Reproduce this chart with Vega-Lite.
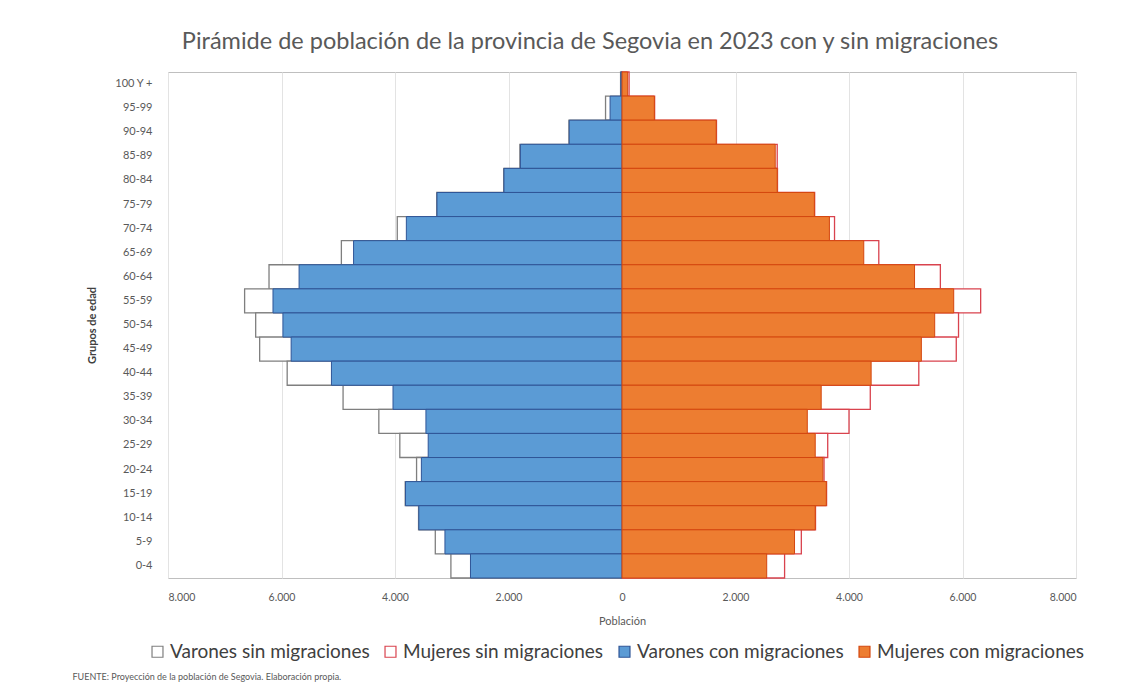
{
  "$schema": "https://vega.github.io/schema/vega-lite/v6.json",
  "padding": {"left": 72, "top": 29, "right": 10, "bottom": 6},
  "background": "#ffffff",
  "title": {
    "text": "FUENTE: Proyección de la población de Segovia. Elaboración propia.",
    "orient": "bottom",
    "anchor": "start",
    "fontSize": 9,
    "fontWeight": "normal",
    "color": "#595959",
    "offset": 11,
    "dx": -14
  },
  "vconcat": [
    {
      "width": 908,
      "height": 506,
      "title": {
        "text": "Pirámide de población de la provincia de Segovia en 2023 con y sin migraciones",
        "fontSize": 23.5,
        "fontWeight": "normal",
        "color": "#595959",
        "offset": 18,
        "dx": -32
      },
      "data": {
        "values": [
          {"edad": "100 Y +", "sexo": "Varones", "tipo": "sin", "poblacion": 25},
          {"edad": "95-99", "sexo": "Varones", "tipo": "sin", "poblacion": 290},
          {"edad": "90-94", "sexo": "Varones", "tipo": "sin", "poblacion": 935},
          {"edad": "85-89", "sexo": "Varones", "tipo": "sin", "poblacion": 1800},
          {"edad": "80-84", "sexo": "Varones", "tipo": "sin", "poblacion": 2085},
          {"edad": "75-79", "sexo": "Varones", "tipo": "sin", "poblacion": 3265},
          {"edad": "70-74", "sexo": "Varones", "tipo": "sin", "poblacion": 3960},
          {"edad": "65-69", "sexo": "Varones", "tipo": "sin", "poblacion": 4945},
          {"edad": "60-64", "sexo": "Varones", "tipo": "sin", "poblacion": 6220},
          {"edad": "55-59", "sexo": "Varones", "tipo": "sin", "poblacion": 6650},
          {"edad": "50-54", "sexo": "Varones", "tipo": "sin", "poblacion": 6455},
          {"edad": "45-49", "sexo": "Varones", "tipo": "sin", "poblacion": 6385},
          {"edad": "40-44", "sexo": "Varones", "tipo": "sin", "poblacion": 5900},
          {"edad": "35-39", "sexo": "Varones", "tipo": "sin", "poblacion": 4915},
          {"edad": "30-34", "sexo": "Varones", "tipo": "sin", "poblacion": 4285},
          {"edad": "25-29", "sexo": "Varones", "tipo": "sin", "poblacion": 3915},
          {"edad": "20-24", "sexo": "Varones", "tipo": "sin", "poblacion": 3620},
          {"edad": "15-19", "sexo": "Varones", "tipo": "sin", "poblacion": 3820},
          {"edad": "10-14", "sexo": "Varones", "tipo": "sin", "poblacion": 3585},
          {"edad": "5-9", "sexo": "Varones", "tipo": "sin", "poblacion": 3290},
          {"edad": "0-4", "sexo": "Varones", "tipo": "sin", "poblacion": 3015},
          {"edad": "100 Y +", "sexo": "Mujeres", "tipo": "sin", "poblacion": 125},
          {"edad": "95-99", "sexo": "Mujeres", "tipo": "sin", "poblacion": 575},
          {"edad": "90-94", "sexo": "Mujeres", "tipo": "sin", "poblacion": 1665},
          {"edad": "85-89", "sexo": "Mujeres", "tipo": "sin", "poblacion": 2735},
          {"edad": "80-84", "sexo": "Mujeres", "tipo": "sin", "poblacion": 2740},
          {"edad": "75-79", "sexo": "Mujeres", "tipo": "sin", "poblacion": 3395},
          {"edad": "70-74", "sexo": "Mujeres", "tipo": "sin", "poblacion": 3745},
          {"edad": "65-69", "sexo": "Mujeres", "tipo": "sin", "poblacion": 4525},
          {"edad": "60-64", "sexo": "Mujeres", "tipo": "sin", "poblacion": 5610},
          {"edad": "55-59", "sexo": "Mujeres", "tipo": "sin", "poblacion": 6320},
          {"edad": "50-54", "sexo": "Mujeres", "tipo": "sin", "poblacion": 5930},
          {"edad": "45-49", "sexo": "Mujeres", "tipo": "sin", "poblacion": 5890},
          {"edad": "40-44", "sexo": "Mujeres", "tipo": "sin", "poblacion": 5230},
          {"edad": "35-39", "sexo": "Mujeres", "tipo": "sin", "poblacion": 4375},
          {"edad": "30-34", "sexo": "Mujeres", "tipo": "sin", "poblacion": 4000},
          {"edad": "25-29", "sexo": "Mujeres", "tipo": "sin", "poblacion": 3625},
          {"edad": "20-24", "sexo": "Mujeres", "tipo": "sin", "poblacion": 3560},
          {"edad": "15-19", "sexo": "Mujeres", "tipo": "sin", "poblacion": 3605},
          {"edad": "10-14", "sexo": "Mujeres", "tipo": "sin", "poblacion": 3410},
          {"edad": "5-9", "sexo": "Mujeres", "tipo": "sin", "poblacion": 3160},
          {"edad": "0-4", "sexo": "Mujeres", "tipo": "sin", "poblacion": 2865},
          {"edad": "100 Y +", "sexo": "Varones", "tipo": "con", "poblacion": 20},
          {"edad": "95-99", "sexo": "Varones", "tipo": "con", "poblacion": 210},
          {"edad": "90-94", "sexo": "Varones", "tipo": "con", "poblacion": 930},
          {"edad": "85-89", "sexo": "Varones", "tipo": "con", "poblacion": 1790},
          {"edad": "80-84", "sexo": "Varones", "tipo": "con", "poblacion": 2080},
          {"edad": "75-79", "sexo": "Varones", "tipo": "con", "poblacion": 3260},
          {"edad": "70-74", "sexo": "Varones", "tipo": "con", "poblacion": 3800},
          {"edad": "65-69", "sexo": "Varones", "tipo": "con", "poblacion": 4730},
          {"edad": "60-64", "sexo": "Varones", "tipo": "con", "poblacion": 5690},
          {"edad": "55-59", "sexo": "Varones", "tipo": "con", "poblacion": 6150},
          {"edad": "50-54", "sexo": "Varones", "tipo": "con", "poblacion": 5975},
          {"edad": "45-49", "sexo": "Varones", "tipo": "con", "poblacion": 5830},
          {"edad": "40-44", "sexo": "Varones", "tipo": "con", "poblacion": 5120},
          {"edad": "35-39", "sexo": "Varones", "tipo": "con", "poblacion": 4035},
          {"edad": "30-34", "sexo": "Varones", "tipo": "con", "poblacion": 3455},
          {"edad": "25-29", "sexo": "Varones", "tipo": "con", "poblacion": 3415},
          {"edad": "20-24", "sexo": "Varones", "tipo": "con", "poblacion": 3535},
          {"edad": "15-19", "sexo": "Varones", "tipo": "con", "poblacion": 3815},
          {"edad": "10-14", "sexo": "Varones", "tipo": "con", "poblacion": 3580},
          {"edad": "5-9", "sexo": "Varones", "tipo": "con", "poblacion": 3120},
          {"edad": "0-4", "sexo": "Varones", "tipo": "con", "poblacion": 2670},
          {"edad": "100 Y +", "sexo": "Mujeres", "tipo": "con", "poblacion": 100},
          {"edad": "95-99", "sexo": "Mujeres", "tipo": "con", "poblacion": 570},
          {"edad": "90-94", "sexo": "Mujeres", "tipo": "con", "poblacion": 1660},
          {"edad": "85-89", "sexo": "Mujeres", "tipo": "con", "poblacion": 2700},
          {"edad": "80-84", "sexo": "Mujeres", "tipo": "con", "poblacion": 2735},
          {"edad": "75-79", "sexo": "Mujeres", "tipo": "con", "poblacion": 3390},
          {"edad": "70-74", "sexo": "Mujeres", "tipo": "con", "poblacion": 3655},
          {"edad": "65-69", "sexo": "Mujeres", "tipo": "con", "poblacion": 4260},
          {"edad": "60-64", "sexo": "Mujeres", "tipo": "con", "poblacion": 5155},
          {"edad": "55-59", "sexo": "Mujeres", "tipo": "con", "poblacion": 5845},
          {"edad": "50-54", "sexo": "Mujeres", "tipo": "con", "poblacion": 5510},
          {"edad": "45-49", "sexo": "Mujeres", "tipo": "con", "poblacion": 5275},
          {"edad": "40-44", "sexo": "Mujeres", "tipo": "con", "poblacion": 4390},
          {"edad": "35-39", "sexo": "Mujeres", "tipo": "con", "poblacion": 3510},
          {"edad": "30-34", "sexo": "Mujeres", "tipo": "con", "poblacion": 3265},
          {"edad": "25-29", "sexo": "Mujeres", "tipo": "con", "poblacion": 3405},
          {"edad": "20-24", "sexo": "Mujeres", "tipo": "con", "poblacion": 3540},
          {"edad": "15-19", "sexo": "Mujeres", "tipo": "con", "poblacion": 3600},
          {"edad": "10-14", "sexo": "Mujeres", "tipo": "con", "poblacion": 3405},
          {"edad": "5-9", "sexo": "Mujeres", "tipo": "con", "poblacion": 3040},
          {"edad": "0-4", "sexo": "Mujeres", "tipo": "con", "poblacion": 2550}
        ]
      },
      "transform": [
        {"calculate": "datum.sexo == 'Varones' ? -datum.poblacion : datum.poblacion", "as": "valor"},
        {"calculate": "datum.sexo + ' ' + datum.tipo + ' migraciones'", "as": "serie"}
      ],
      "encoding": {
        "y": {
          "field": "edad",
          "type": "nominal",
          "sort": ["100 Y +", "95-99", "90-94", "85-89", "80-84", "75-79", "70-74", "65-69", "60-64", "55-59", "50-54", "45-49", "40-44", "35-39", "30-34", "25-29", "20-24", "15-19", "10-14", "5-9", "0-4"],
          "scale": {"paddingInner": 0, "paddingOuter": 0},
          "title": "Grupos de edad",
          "axis": {
            "ticks": false,
            "domain": false,
            "grid": false,
            "labelFontSize": 11,
            "labelColor": "#595959",
            "labelPadding": 16,
            "titleFontSize": 11,
            "titleFontWeight": "bold",
            "titleColor": "#404040",
            "titlePadding": 16
          }
        },
        "x": {
          "field": "valor",
          "type": "quantitative",
          "stack": null,
          "scale": {"domain": [-8000, 8000], "nice": false},
          "title": "Población",
          "axis": {
            "values": [-8000, -6000, -4000, -2000, 0, 2000, 4000, 6000, 8000],
            "labelExpr": "replace(format(abs(datum.value), ','), ',', '.')",
            "ticks": false,
            "domain": false,
            "grid": true,
            "gridColor": "#E3E3E3",
            "labelFontSize": 10.5,
            "labelColor": "#595959",
            "labelPadding": 14,
            "titleFontSize": 11,
            "titleFontWeight": "normal",
            "titleColor": "#595959",
            "titlePadding": 13
          }
        },
        "fill": {
          "field": "serie",
          "type": "nominal",
          "scale": {
            "domain": ["Varones sin migraciones", "Mujeres sin migraciones", "Varones con migraciones", "Mujeres con migraciones"],
            "range": ["#ffffff", "#ffffff", "#5B9BD5", "#ED7D31"]
          },
          "legend": {
            "orient": "none",
            "legendX": -20,
            "legendY": 570,
            "direction": "horizontal",
            "title": null,
            "labelFontSize": 19,
            "labelColor": "#404040",
            "symbolType": "square",
            "symbolSize": 120,
            "symbolStrokeWidth": 1.2,
            "columnPadding": 11,
            "labelOffset": 3,
            "labelLimit": 400
          }
        },
        "stroke": {
          "field": "serie",
          "type": "nominal",
          "scale": {
            "domain": ["Varones sin migraciones", "Mujeres sin migraciones", "Varones con migraciones", "Mujeres con migraciones"],
            "range": ["#7F7F7F", "#D9434E", "#2F5597", "#D4470F"]
          }
        }
      },
      "layer": [
        {"transform": [{"filter": "datum.tipo == 'sin'"}], "mark": {"type": "bar", "strokeWidth": 1.3}},
        {"transform": [{"filter": "datum.tipo == 'con'"}], "mark": {"type": "bar", "strokeWidth": 1}}
      ]
    }
  ],
  "config": {
    "font": "Lato",
    "view": {"stroke": "#BFBFBF", "strokeWidth": 1}
  }
}
